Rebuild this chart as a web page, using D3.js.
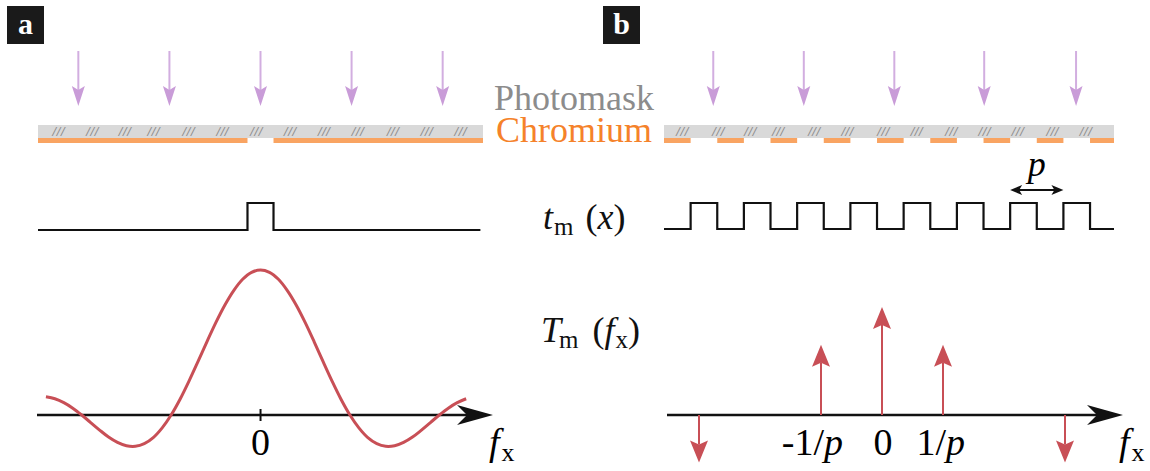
<!DOCTYPE html>
<html>
<head>
<meta charset="utf-8">
<script src="https://cdn.jsdelivr.net/npm/d3@7"></script>
<style>
  svg text { font-family: Liberation Serif, Tinos, Times New Roman, FreeSerif, serif; }
  svg text.hatch { font-family: DejaVu Sans, sans-serif; }
</style>
</head>
<body style="margin:0">
<svg id="chart" width="1150" height="471"></svg>
<script>
// ---- Panel a: single aperture mask (positions in mask units) ----
const apertureA = [[-1, 1]];                 // opening in the chromium layer
const illumA = [-14, -7, 0, 7, 14];          // incident light arrows
const hatchA = [-15.5, -12.9, -10.4, -8.2, -5.5, -2.9, -0.3, 2.3, 4.9, 7.5, 10.2, 12.8, 15.4];

// Fourier transform of the single aperture, T(fx), fx in units of the first zero
const sincF = [-2.4, -2.3, -2.2, -2.1, -2.0, -1.9, -1.8, -1.7, -1.6, -1.5, -1.4, -1.3, -1.2, -1.1, -1.0,
               -0.9, -0.8, -0.7, -0.6, -0.5, -0.4, -0.3, -0.2, -0.1, 0.0,
               0.1, 0.2, 0.3, 0.4, 0.5, 0.6, 0.7, 0.8, 0.9, 1.0,
               1.1, 1.2, 1.3, 1.4, 1.5, 1.6, 1.7, 1.8, 1.9, 2.0, 2.1, 2.2, 2.3];
const sincT = [0.126, 0.112, 0.085, 0.047, 0.0, -0.052, -0.104, -0.152, -0.189, -0.212, -0.216, -0.198, -0.156, -0.089, 0.0,
               0.109, 0.234, 0.368, 0.505, 0.637, 0.757, 0.858, 0.936, 0.984, 1.0,
               0.984, 0.936, 0.858, 0.757, 0.637, 0.505, 0.368, 0.234, 0.109, 0.0,
               -0.089, -0.156, -0.198, -0.216, -0.212, -0.189, -0.152, -0.104, -0.052, 0.0, 0.047, 0.085, 0.112];
const tickA = [0];
const tickLabelsA = ["0"];

// ---- Panel b: periodic grating mask ----
const chromeB = [[0, 2], [4, 6], [8, 10], [12, 14], [16, 18], [20, 22], [24, 26], [28, 30], [32, 33.8]];
const illumB = [3.7, 10.5, 17.3, 24.05, 30.95];
const hatchB = [1.4, 4.1, 6.5, 8.6, 11.3, 13.8, 16.5, 19.0, 21.6, 24.1, 26.6, 29.2, 31.7];
const periodMark = [26, 30];                 // one period p

// Diffraction orders (fx in units of 1/p) and their amplitudes
const orders = [-3, -1, 0, 1, 3];
const amplitudes = [-0.44, 0.65, 1.0, 0.65, -0.44];
const tickB = [-1, 0, 1];
const tickLabelsB = [["-1/", "p"], ["0", ""], ["1/", "p"]];

// ---- colours ----
const C = {
  purple: "#c99cd8", purpleLine: "#d2aee0",
  mask: "#d9d9d9", hatch: "#8a8a8a",
  chrome: "#f9a462", chromeText: "#f5822a", maskText: "#8c8c8c",
  red: "#c84f56", black: "#111"
};

const SERIF = "Liberation Serif, Tinos, Times New Roman, FreeSerif, serif";
const svg = d3.select("#chart").attr("font-family", SERIF);

// text helper: every label gets the serif face directly
function txt(parent, x, y, size) {
  return parent.append("text").attr("x", x).attr("y", y).attr("font-size", size).attr("font-family", SERIF);
}

// arrow head path: tip at (0,0), body extending towards -y before rotation
function headPath(len, half, notch) {
  return `M0,0 L${-half},${-len} L0,${-(len - notch)} L${half},${-len} Z`;
}
function head(g, x, y, angleDeg, len, half, notch, fill) {
  g.append("path")
    .attr("d", headPath(len, half, notch))
    .attr("transform", `translate(${x},${y}) rotate(${angleDeg})`)
    .attr("fill", fill);
}

// panel label boxes
function panelLabel(x, y, label) {
  svg.append("rect").attr("x", x).attr("y", y).attr("width", 37).attr("height", 38).attr("fill", "#1a1a1a");
  txt(svg, x + 18.5, y + 28, 30).attr("text-anchor", "middle")
    .attr("fill", "#fff").attr("font-weight", "bold").text(label);
}
panelLabel(7, 6, "a");
panelLabel(603, 6, "b");

// ---------- mask bars ----------
const maskTop = 125, maskBot = 138, chromeBot = 143;

function drawMask(scale, domain, chromeSegs, hatch, illum) {
  const g = svg.append("g");
  g.append("rect").attr("x", scale(domain[0])).attr("y", maskTop)
    .attr("width", scale(domain[1]) - scale(domain[0])).attr("height", maskBot - maskTop).attr("fill", C.mask);
  g.selectAll(".cr").data(chromeSegs).join("rect")
    .attr("x", d => scale(d[0])).attr("y", maskBot)
    .attr("width", d => scale(d[1]) - scale(d[0])).attr("height", chromeBot - maskBot).attr("fill", C.chrome);
  // small "///" hatch marks on the glass
  g.selectAll(".hatch").data(hatch).join("text")
    .attr("class", "hatch")
    .attr("x", d => scale(d)).attr("y", 135).attr("text-anchor", "middle")
    .attr("font-size", 11).attr("font-style", "italic").attr("letter-spacing", 0.5)
    .attr("font-family", "DejaVu Sans, sans-serif")
    .attr("fill", C.hatch).text("///");
  illum.forEach(v => {
    const x = scale(v);
    g.append("line").attr("x1", x).attr("x2", x).attr("y1", 51).attr("y2", 95)
      .attr("stroke", C.purpleLine).attr("stroke-width", 2);
    head(g, x, 106, 0, 20, 6.5, 4, C.purple);
  });
}

// panel a mask
const xMaskA = d3.scaleLinear().domain([-17.1, 17.1]).range([38, 483]);
const domA = xMaskA.domain();
// chromium covers everything outside the aperture
const chromeA = [[domA[0], apertureA[0][0]], [apertureA[0][1], domA[1]]];
drawMask(xMaskA, domA, chromeA, hatchA, illumA);

// panel b mask
const xMaskB = d3.scaleLinear().domain([0, 33.8]).range([664, 1114]);
drawMask(xMaskB, xMaskB.domain(), chromeB, hatchB, illumB);

// Photomask / Chromium labels
txt(svg, 574, 110, 36).attr("text-anchor", "middle").attr("fill", C.maskText).text("Photomask");
txt(svg, 574, 142, 36).attr("text-anchor", "middle").attr("fill", C.chromeText).text("Chromium");

// ---------- transmission functions t_m(x) ----------
const yTA = d3.scaleLinear().domain([0, 1]).range([230, 203]);
const yTB = d3.scaleLinear().domain([0, 1]).range([229, 203]);
const stepLine = (xs, ys) => d3.line().x(d => xs(d[0])).y(d => ys(d[1])).curve(d3.curveStepAfter);

const tA = [[-17.1, 0], [apertureA[0][0], 1], [apertureA[0][1], 0], [16.9, 0]];
svg.append("path").attr("d", stepLine(xMaskA, yTA)(tA))
  .attr("fill", "none").attr("stroke", C.black).attr("stroke-width", 2.2);

// open where there is no chromium
const tB = [];
chromeB.forEach((seg, i) => {
  tB.push([seg[0], 0]);
  if (i < chromeB.length - 1) tB.push([seg[1], 1]);
});
tB.push([33.8, 0]);
svg.append("path").attr("d", stepLine(xMaskB, yTB)(tB))
  .attr("fill", "none").attr("stroke", C.black).attr("stroke-width", 2.2);

// period annotation
{
  const g = svg.append("g");
  const x1 = xMaskB(periodMark[0]), x2 = xMaskB(periodMark[1]), y = 190;
  g.append("line").attr("x1", x1 + 8).attr("x2", x2 - 8).attr("y1", y).attr("y2", y)
    .attr("stroke", C.black).attr("stroke-width", 1.8);
  head(g, x1, y, 90, 12, 5, 3, C.black);
  head(g, x2, y, -90, 12, 5, 3, C.black);
  txt(g, (x1 + x2) / 2, 176, 36).attr("text-anchor", "middle").attr("font-style", "italic").text("p");
}

// function labels
function mathLabel(x, y, parts) {
  const t = txt(svg, x, y, 36).attr("fill", C.black);
  parts.forEach(p => {
    const s = t.append("tspan").text(p.t);
    if (p.i) s.attr("font-style", "italic");
    if (p.sub) s.attr("font-size", 25).attr("dy", 6);
    if (p.up) s.attr("dy", -6);
    if (p.dx) s.attr("dx", p.dx);
  });
}
mathLabel(543, 229, [{ t: "t", i: true }, { t: "m", sub: true, dx: 1 }, { t: "(", up: true, dx: 12 }, { t: "x", i: true }, { t: ")" }]);
mathLabel(541, 342, [{ t: "T", i: true }, { t: "m", sub: true, dx: -2 }, { t: "(", up: true, dx: 14 }, { t: "f", i: true },
  { t: "x", sub: true, dx: 1 }, { t: ")", up: true }]);

// ---------- spectra ----------
const axisY = 415;

function fxAxis(x0, tip, labelX) {
  const g = svg.append("g");
  g.append("line").attr("x1", x0).attr("x2", tip - 20).attr("y1", axisY).attr("y2", axisY)
    .attr("stroke", C.black).attr("stroke-width", 2.5);
  head(g, tip, axisY, -90, 36, 10, 10, C.black);
  const t = txt(g, labelX, 455, 38);
  t.append("tspan").attr("font-style", "italic").text("f");
  t.append("tspan").attr("font-size", 26).attr("dy", 6).attr("dx", 2).text("x");
}

// panel a: sinc envelope
const fxA = d3.scaleLinear().domain([-2.5, 2.6]).range([37, 493]);
const yA = d3.scaleLinear().domain([0, 1]).range([axisY, 270]);
fxAxis(fxA(-2.5), fxA(2.6), 489);
svg.append("line").attr("x1", fxA(tickA[0])).attr("x2", fxA(tickA[0])).attr("y1", 409).attr("y2", 421)
  .attr("stroke", C.black).attr("stroke-width", 2);
tickA.forEach((d, i) => {
  txt(svg, fxA(d), 455, 38).attr("text-anchor", "middle").text(tickLabelsA[i]);
});
svg.append("path")
  .datum(sincF.map((f, i) => [f, sincT[i]]))
  .attr("d", d3.line().x(d => fxA(d[0])).y(d => yA(d[1])).curve(d3.curveCatmullRom))
  .attr("fill", "none").attr("stroke", C.red).attr("stroke-width", 3);

// panel b: diffraction orders
const fxB = d3.scaleLinear().domain([-3.5, 4.0]).range([668.5, 1126]);
const yB = d3.scaleLinear().domain([0, 1]).range([axisY, 307]);
fxAxis(667, 1123, 1119);
orders.forEach((o, i) => {
  const x = fxB(o), yt = yB(amplitudes[i]);
  const up = amplitudes[i] > 0;
  svg.append("line").attr("x1", x).attr("x2", x).attr("y1", axisY)
    .attr("y2", up ? yt + 18 : yt - 18).attr("stroke", C.red).attr("stroke-width", 2);
  head(svg, x, yt, up ? 180 : 0, 22, 9, 4, C.red);
});
tickB.forEach((d, i) => {
  const t = txt(svg, fxB(d) + 22, 455, 38).attr("text-anchor", "end");
  if (d === 0) t.attr("text-anchor", "middle").attr("x", fxB(d) + 1);
  t.append("tspan").text(tickLabelsB[i][0]);
  if (tickLabelsB[i][1]) t.append("tspan").attr("font-style", "italic").text(tickLabelsB[i][1]);
});
</script>
</body>
</html>
